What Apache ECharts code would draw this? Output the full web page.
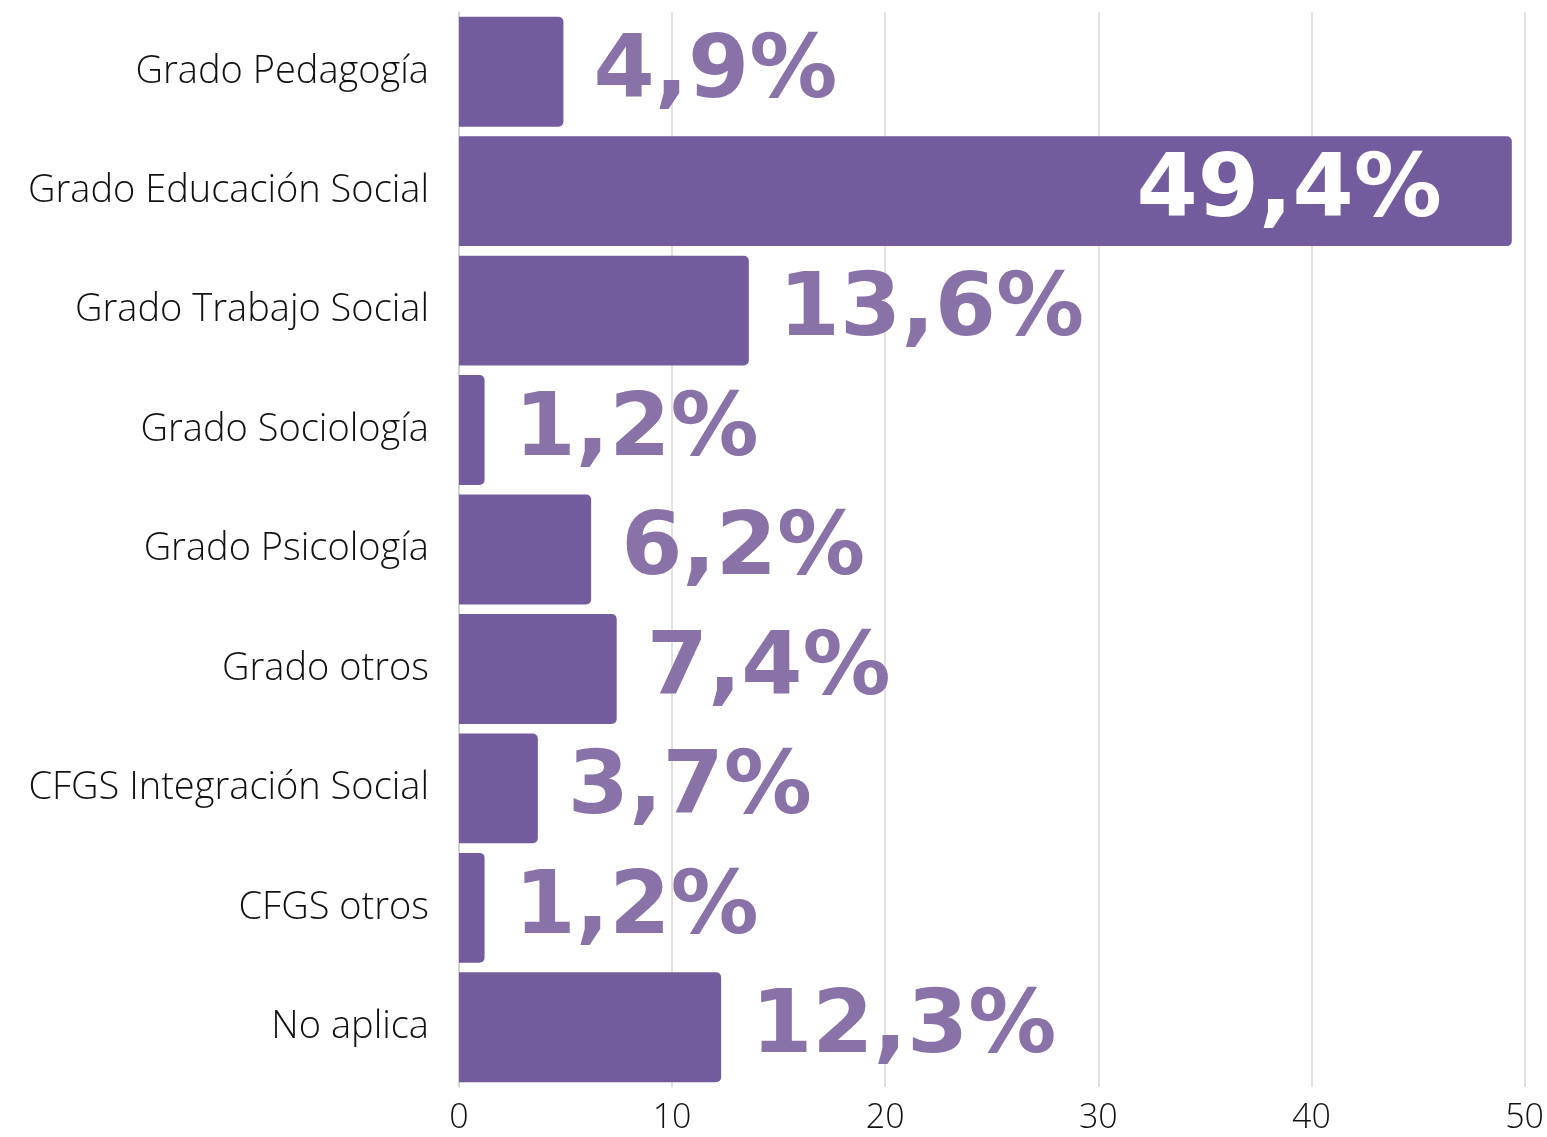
<!DOCTYPE html>
<html>
<head>
<meta charset="utf-8">
<style>
  html, body { margin: 0; padding: 0; background: #fff; }
  #main { width: 1547px; height: 1137px; }
</style>
<script src="https://cdn.jsdelivr.net/npm/echarts@6/dist/echarts.min.js"></script>
</head>
<body>
<div id="main"></div>
<script>
// categories top to bottom
var categories = [
  'Grado Pedagogía',
  'Grado Educación Social',
  'Grado Trabajo Social',
  'Grado Sociología',
  'Grado Psicología',
  'Grado otros',
  'CFGS Integración Social',
  'CFGS otros',
  'No aplica'
];
var values = [4.9, 49.4, 13.6, 1.2, 6.2, 7.4, 3.7, 1.2, 12.3];
var xTicks = [0, 10, 20, 30, 40, 50];

var barColor = '#735c9e';
var labelColor = '#8872a8';

var seriesData = values.map(function (v) {
  var item = { value: v };
  if (v > 40) {
    item.label = { position: 'insideRight', distance: 70, color: '#ffffff' };
  }
  return item;
});

var myChart = echarts.init(document.getElementById('main'));

var option = {
  animation: false,
  grid: { left: 459, right: 22, top: 12, bottom: 50 },
  xAxis: {
    type: 'value',
    min: xTicks[0],
    max: xTicks[xTicks.length - 1],
    interval: 10,
    axisLine: { show: false },
    axisTick: { show: false },
    splitLine: { lineStyle: { color: '#d9d9d9', width: 1.5 } },
    axisLabel: {
      fontFamily: 'Open Sans',
      fontWeight: 300,
      fontSize: 34,
      color: '#111',
      margin: 14
    }
  },
  yAxis: {
    type: 'category',
    inverse: true,
    data: categories,
    axisLine: { show: true, lineStyle: { color: '#d0d0d0', width: 1.5 } },
    axisTick: { show: false },
    axisLabel: {
      fontFamily: 'Open Sans',
      fontWeight: 300,
      fontSize: 38,
      color: '#111',
      margin: 30,
      padding: [0, 0, 8, 0]
    }
  },
  series: [{
    type: 'bar',
    data: seriesData,
    barCategoryGap: '8%',
    itemStyle: { color: barColor, borderRadius: [0, 5, 5, 0] },
    label: {
      show: true,
      position: 'right',
      distance: 30,
      offset: [0, 2],
      color: labelColor,
      fontFamily: 'DejaVu Sans',
      fontWeight: 'bold',
      fontSize: 88,
      formatter: function (p) {
        return p.value.toFixed(1).replace('.', ',') + '%';
      }
    }
  }]
};

myChart.setOption(option);
</script>
</body>
</html>
